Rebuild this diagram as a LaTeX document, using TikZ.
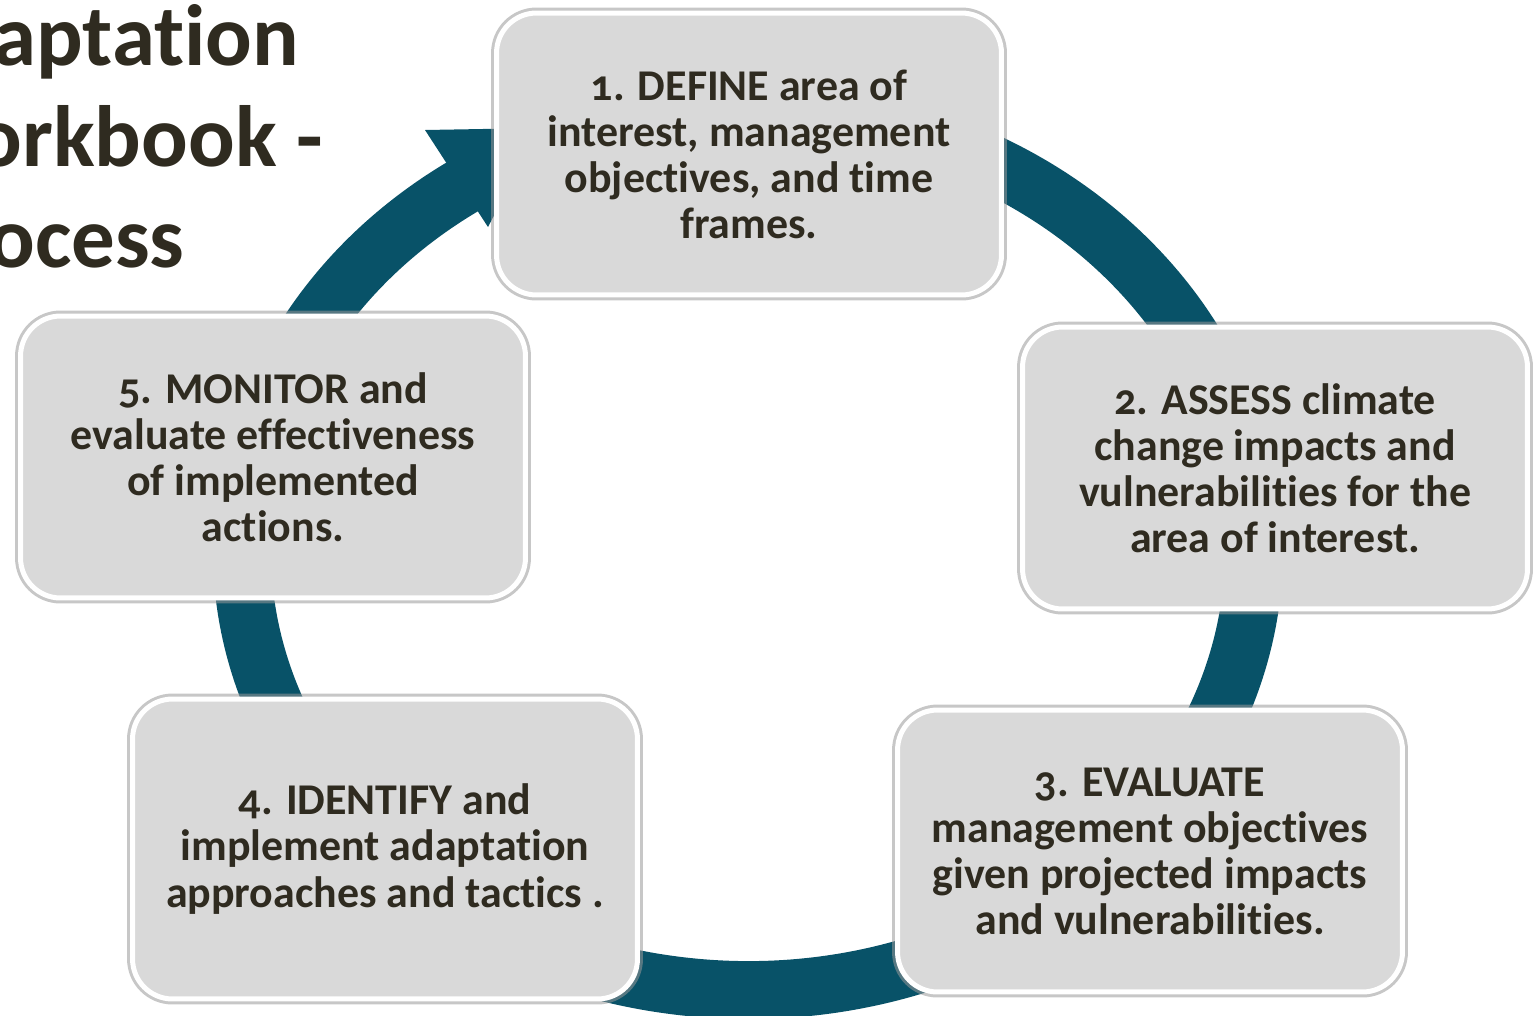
\documentclass[tikz,border=0pt]{standalone}
\usepackage{fontspec}
\setmainfont{Carlito}[Numbers=OldStyle, Ligatures=NoCommon]
\usepackage{tikz}
\usetikzlibrary{positioning}
\usepackage{xcolor}
\definecolor{ringteal}{RGB}{8,82,104}
\definecolor{cardgrey}{RGB}{217,217,217}
\definecolor{inkbrown}{RGB}{47,43,32}
\def\canvasframe{(0,0) rectangle (1534,1015)}
\def\ringcentre{(748,550)}

\begin{document}
\begin{tikzpicture}[x=0.02cm, y=-0.02cm,
    stepcard/.style={rectangle, rounded corners=0.8cm, fill=cardgrey, draw=white,
        line width=0.1cm, minimum width=10.1cm, minimum height=5.64cm,
        align=center, text=inkbrown, font=\bfseries\fontsize{25}{26.2}\selectfont,
        preaction={draw=black!40, line width=0.22cm, opacity=0.55}},
    titleline/.style={anchor=base west, inner sep=0pt, text=inkbrown,
        font=\bfseries\fontsize{49.5}{54}\selectfont}]
    % Cornice e ritaglio
    \useasboundingbox \canvasframe;
    \clip \canvasframe;
    % Anello del ciclo
    \draw[ringteal, line width=1.16cm] \ringcentre ++(-80:506 and 440)
        arc[start angle=-80, end angle=237, x radius=506, y radius=440];
    % Punta della freccia
    \fill[ringteal] (425,130) -- (540,128) -- (488,227) -- cycle;
    % Titolo tagliato
    \node[titleline] (titleA) at (-7,65) {aptation};
    \node[titleline] (titleB) at (-25,166) {orkbook -};
    \node[titleline] (titleC) at (-12,267) {ocess};
    % Passi
    \node[stepcard] (define) at (749,154)
        {1. DEFINE area of\\interest, management\\objectives, and time\\frames.};
    \node[stepcard] (assess) at (1275,468)
        {2. ASSESS climate\\change impacts and\\vulnerabilities for the\\area of interest.};
    \node[stepcard] (evaluate) at (1150,851)
        {3. EVALUATE\\management objectives\\given projected impacts\\and vulnerabilities.};
    \node[stepcard, minimum height=6cm] (identify) at (385,849)
        {4. IDENTIFY and\\implement adaptation\\approaches and tactics .};
    \node[stepcard] (monitor) at (273,457)
        {5. MONITOR and\\evaluate effectiveness\\of implemented\\actions.};
\end{tikzpicture}
\end{document}
